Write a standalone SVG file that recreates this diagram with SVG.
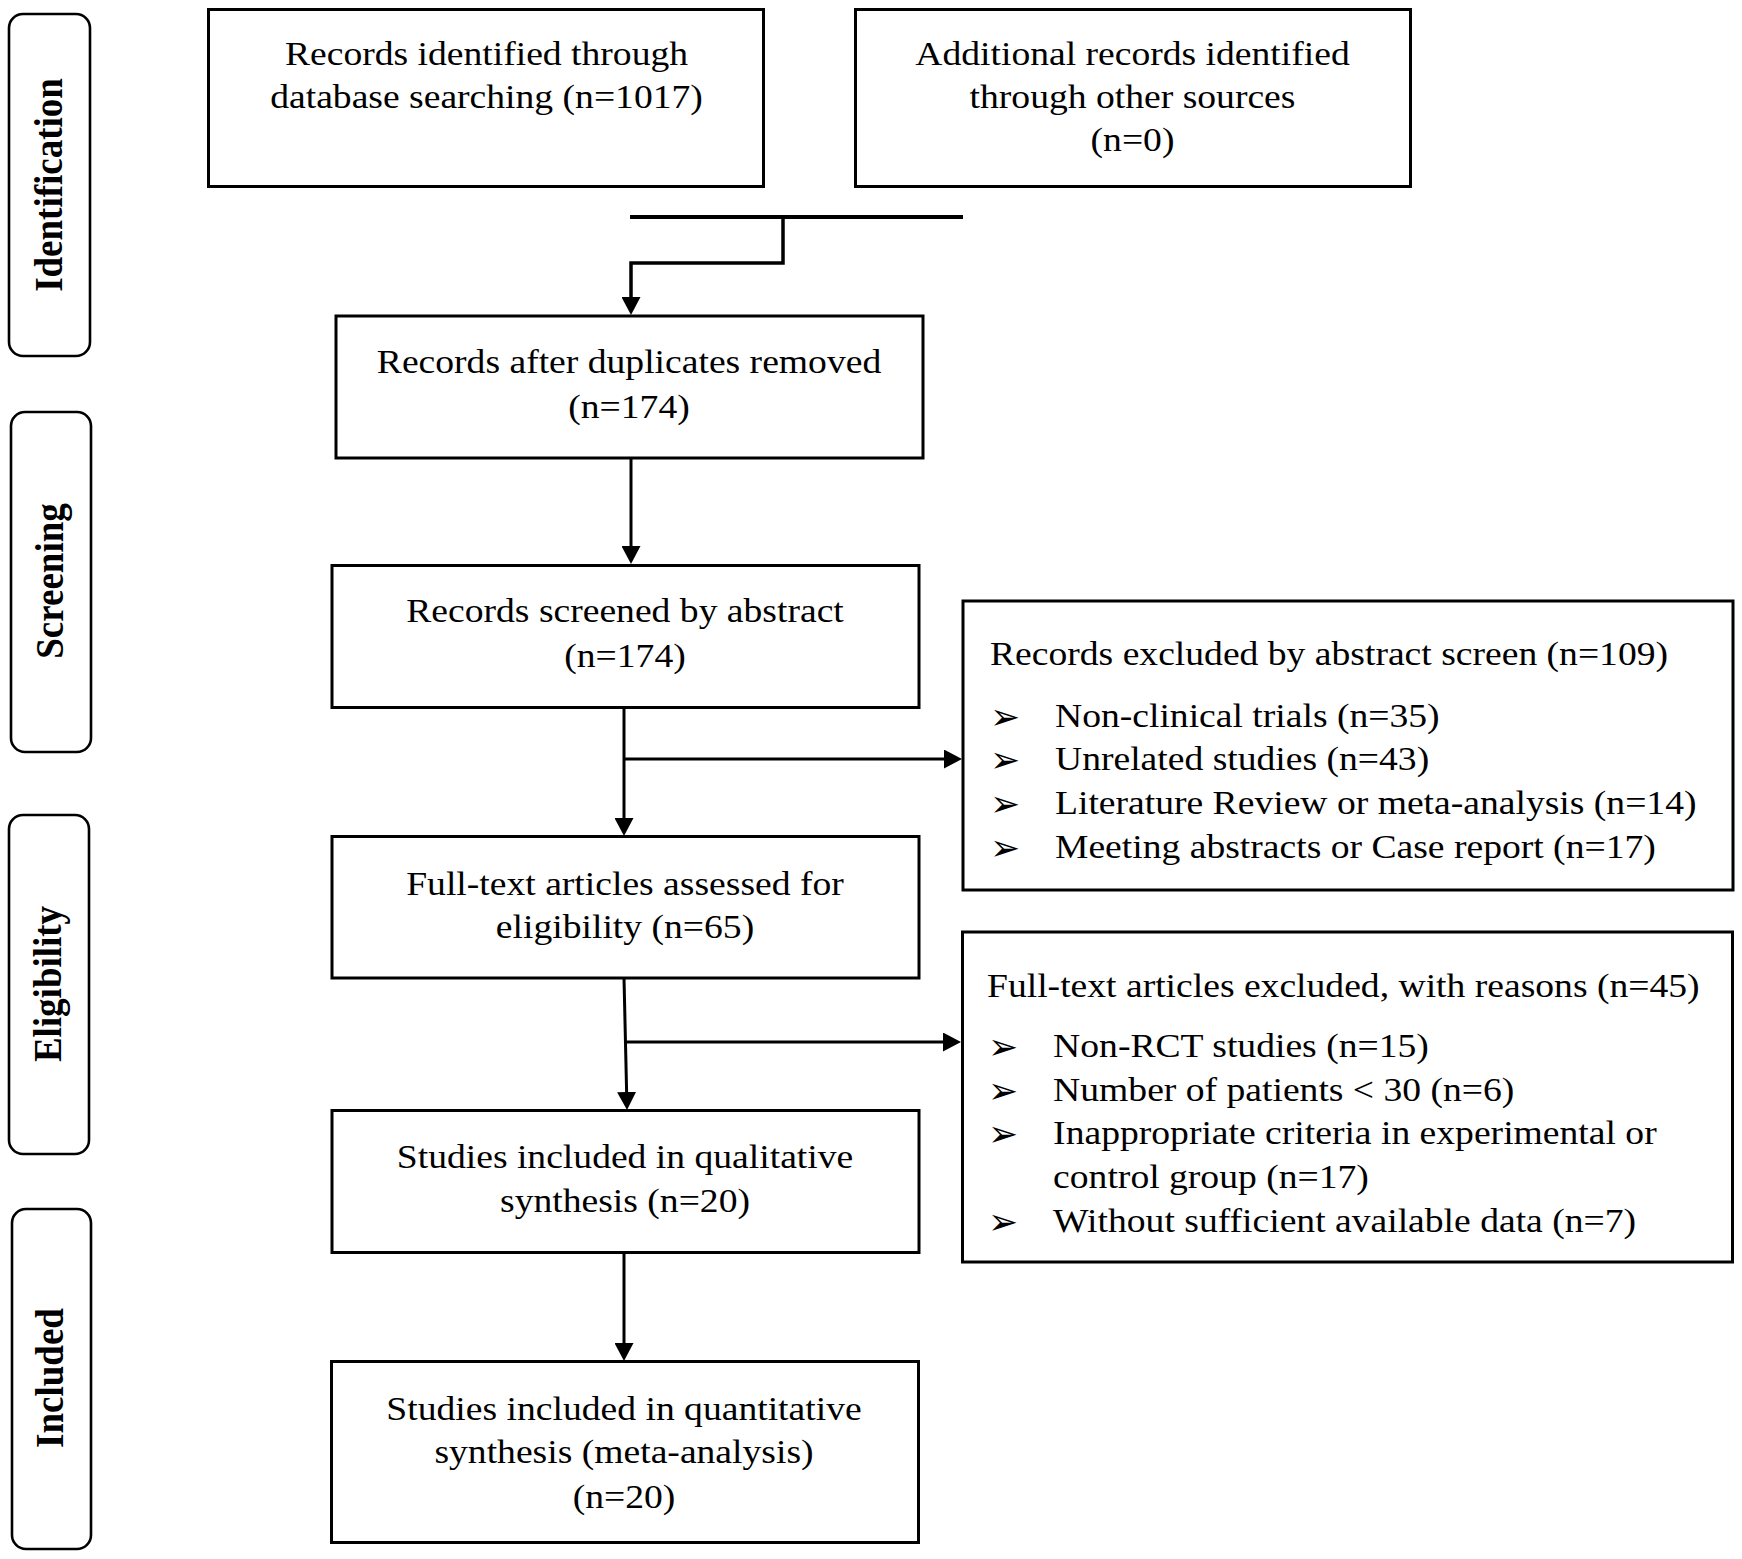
<svg xmlns="http://www.w3.org/2000/svg" width="1742" height="1559" viewBox="0 0 1742 1559">
<style>
.box{fill:#fff;stroke:#000;stroke-width:3}
.side{fill:#fff;stroke:#000;stroke-width:2.6}
.t{font-family:"Liberation Serif","Times New Roman",serif;font-size:33px;fill:#000}
.lab{font-family:"Liberation Serif","Times New Roman",serif;font-size:37px;font-weight:bold;fill:#000}
.bul{font-family:"DejaVu Sans",sans-serif;font-size:36px;fill:#000}
.c{fill:none;stroke:#000;stroke-width:3}
</style>
<defs>
<marker id="ah" viewBox="0 0 18 19" refX="8" refY="9.5" markerWidth="18" markerHeight="19" markerUnits="userSpaceOnUse" orient="auto">
<path d="M0,0 L18,9.5 L0,19 z" fill="#000"/>
</marker>
</defs>
<rect width="1742" height="1559" fill="#fff"/>

<g id="stage-identification">
<rect class="side" x="9" y="14" width="81" height="342" rx="14"/>
<text class="lab" transform="translate(62,185) rotate(-90) scale(1,1.1)" text-anchor="middle">Identification</text>
</g>
<g id="stage-screening">
<rect class="side" x="11" y="412" width="80" height="340" rx="14"/>
<text class="lab" transform="translate(63,581) rotate(-90) scale(1,1.1)" text-anchor="middle">Screening</text>
</g>
<g id="stage-eligibility">
<rect class="side" x="9" y="815" width="80" height="339" rx="14"/>
<text class="lab" transform="translate(61,984) rotate(-90) scale(1,1.1)" text-anchor="middle">Eligibility</text>
</g>
<g id="stage-included">
<rect class="side" x="12" y="1209" width="79" height="340" rx="14"/>
<text class="lab" transform="translate(63,1378) rotate(-90) scale(1,1.1)" text-anchor="middle">Included</text>
</g>

<g id="connectors">
<path class="c" d="M630,217 H963" style="stroke-width:4"/>
<path class="c" d="M783,217 V263 H631 V305" marker-end="url(#ah)" style="stroke-width:3.5"/>
<path class="c" d="M631,458 V554" marker-end="url(#ah)"/>
<path class="c" d="M624,708 V826" marker-end="url(#ah)"/>
<path class="c" d="M624,759 H952" marker-end="url(#ah)"/>
<path class="c" d="M624,978 L626.8,1100" marker-end="url(#ah)"/>
<path class="c" d="M625,1042 H951" marker-end="url(#ah)"/>
<path class="c" d="M624,1253 V1351" marker-end="url(#ah)"/>
</g>

<g id="db-records">
<rect class="box" x="208.5" y="9.5" width="555" height="177"/>
<g transform="translate(486.5,0) scale(1.14,1)"><text class="t" text-anchor="middle"><tspan x="0" y="65">Records identified through</tspan><tspan x="0" y="108">database searching (n=1017)</tspan></text></g>
</g>

<g id="other-records">
<rect class="box" x="855.5" y="9.5" width="555" height="177"/>
<g transform="translate(1132.5,0) scale(1.14,1)"><text class="t" text-anchor="middle"><tspan x="0" y="65">Additional records identified</tspan><tspan x="0" y="108">through other sources</tspan><tspan x="0" y="151">(n=0)</tspan></text></g>
</g>

<g id="after-duplicates">
<rect class="box" x="336" y="316" width="587" height="142"/>
<g transform="translate(629,0) scale(1.14,1)"><text class="t" text-anchor="middle"><tspan x="0" y="373">Records after duplicates removed</tspan><tspan x="0" y="418">(n=174)</tspan></text></g>
</g>

<g id="screened">
<rect class="box" x="332" y="565.5" width="587" height="142"/>
<g transform="translate(625,0) scale(1.14,1)"><text class="t" text-anchor="middle"><tspan x="0" y="622">Records screened by abstract</tspan><tspan x="0" y="667">(n=174)</tspan></text></g>
</g>

<g id="fulltext-assessed">
<rect class="box" x="332" y="836.5" width="587" height="141.5"/>
<g transform="translate(625,0) scale(1.14,1)"><text class="t" text-anchor="middle"><tspan x="0" y="895">Full-text articles assessed for</tspan><tspan x="0" y="938">eligibility (n=65)</tspan></text></g>
</g>

<g id="qualitative">
<rect class="box" x="332" y="1110.5" width="587" height="142"/>
<g transform="translate(625,0) scale(1.14,1)"><text class="t" text-anchor="middle"><tspan x="0" y="1168">Studies included in qualitative</tspan><tspan x="0" y="1212">synthesis (n=20)</tspan></text></g>
</g>

<g id="quantitative">
<rect class="box" x="331.5" y="1361.5" width="587" height="181"/>
<g transform="translate(624,0) scale(1.14,1)"><text class="t" text-anchor="middle"><tspan x="0" y="1420">Studies included in quantitative</tspan><tspan x="0" y="1463">synthesis (meta-analysis)</tspan><tspan x="0" y="1508">(n=20)</tspan></text></g>
</g>

<g id="excluded-abstract">
<rect class="box" x="963" y="601" width="770" height="289"/>
<text class="bul"><tspan x="990" y="729">➢</tspan><tspan x="990" y="772">➢</tspan><tspan x="990" y="816">➢</tspan><tspan x="990" y="860">➢</tspan></text>
<g transform="translate(990,0) scale(1.14,1)">
<text class="t" x="0" y="665">Records excluded by abstract screen (n=109)</text>
<text class="t"><tspan x="57" y="727">Non-clinical trials (n=35)</tspan><tspan x="57" y="770">Unrelated studies (n=43)</tspan><tspan x="57" y="814">Literature Review or meta-analysis (n=14)</tspan><tspan x="57" y="858">Meeting abstracts or Case report (n=17)</tspan></text>
</g>
</g>

<g id="excluded-fulltext">
<rect class="box" x="962.5" y="932" width="770" height="330"/>
<text class="bul"><tspan x="988" y="1059">➢</tspan><tspan x="988" y="1103">➢</tspan><tspan x="988" y="1146">➢</tspan><tspan x="988" y="1234">➢</tspan></text>
<g transform="translate(987,0) scale(1.14,1)">
<text class="t" x="0" y="997">Full-text articles excluded, with reasons (n=45)</text>
<text class="t"><tspan x="58" y="1057">Non-RCT studies (n=15)</tspan><tspan x="58" y="1101">Number of patients &lt; 30 (n=6)</tspan><tspan x="58" y="1144">Inappropriate criteria in experimental or</tspan><tspan x="58" y="1188">control group (n=17)</tspan><tspan x="58" y="1232">Without sufficient available data (n=7)</tspan></text>
</g>
</g>
</svg>
